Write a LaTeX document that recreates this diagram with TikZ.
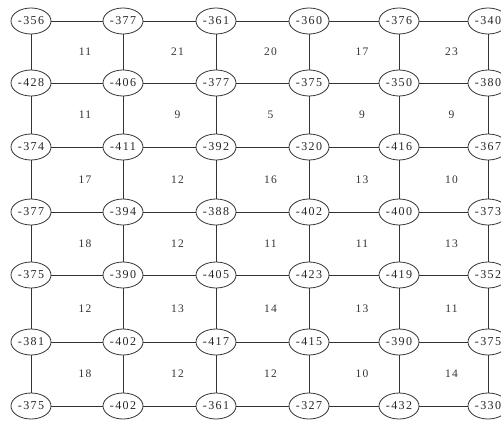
\documentclass[tikz,border=0pt]{standalone}
\usepackage{fontspec}
\setmainfont{Liberation Serif}[LetterSpace=12]
\usetikzlibrary{shapes.geometric}
\begin{document}
\begin{tikzpicture}[x=1pt,y=-1pt,
  vtx/.style={ellipse,draw=black!80,line width=0.8pt,minimum width=40pt,minimum height=26pt,inner sep=0pt,fill=white,text=black!85,font=\fontsize{12}{12}\selectfont},
  cellnum/.style={text=black!80,font=\fontsize{11.5}{12}\selectfont},
  link/.style={draw=black!80,line width=0.8pt}]
\useasboundingbox (0,0) rectangle (501,423);
\clip (0,0) rectangle (501,423);
\def\colx{{31,123,216,309,399,488}}
\def\rowy{{21,83,147,212,275,342,406}}
\foreach \rowvals [count=\r from 0] in {
  {-356,-377,-361,-360,-376,-340},
  {-428,-406,-377,-375,-350,-380},
  {-374,-411,-392,-320,-416,-367},
  {-377,-394,-388,-402,-400,-373},
  {-375,-390,-405,-423,-419,-352},
  {-381,-402,-417,-415,-390,-375},
  {-375,-402,-361,-327,-432,-330}} {
  \foreach \v [count=\c from 0] in \rowvals {
    \pgfmathsetmacro\xx{\colx[\c]}
    \pgfmathsetmacro\yy{\rowy[\r]}
    \node[vtx] (n-\r-\c) at (\xx,\yy) {\v};
  }
}
\foreach \r in {0,...,6} {
  \foreach \c [evaluate=\c as \cn using int(\c+1)] in {0,...,4} {
    \draw[link] (n-\r-\c) -- (n-\r-\cn);
  }
}
\foreach \c in {0,...,5} {
  \foreach \r [evaluate=\r as \rn using int(\r+1)] in {0,...,5} {
    \draw[link] (n-\r-\c) -- (n-\rn-\c);
  }
}
\foreach \rowvals [count=\r from 0] in {
  {11,21,20,17,23},
  {11,9,5,9,9},
  {17,12,16,13,10},
  {18,12,11,11,13},
  {12,13,14,13,11},
  {18,12,12,10,14}} {
  \foreach \v [count=\c from 0] in \rowvals {
    \pgfmathtruncatemacro\cn{\c+1}
    \pgfmathtruncatemacro\rn{\r+1}
    \pgfmathsetmacro\xa{\colx[\c]}
    \pgfmathsetmacro\xb{\colx[\cn]}
    \pgfmathsetmacro\ya{\rowy[\r]}
    \pgfmathsetmacro\yb{\rowy[\rn]}
    \pgfmathsetmacro\xx{(\xa+\xb)/2+8}
    \pgfmathsetmacro\yy{(\ya+\yb)/2}
    \node[cellnum] (m-\r-\c) at (\xx,\yy) {\v};
  }
}
\end{tikzpicture}
\end{document}
